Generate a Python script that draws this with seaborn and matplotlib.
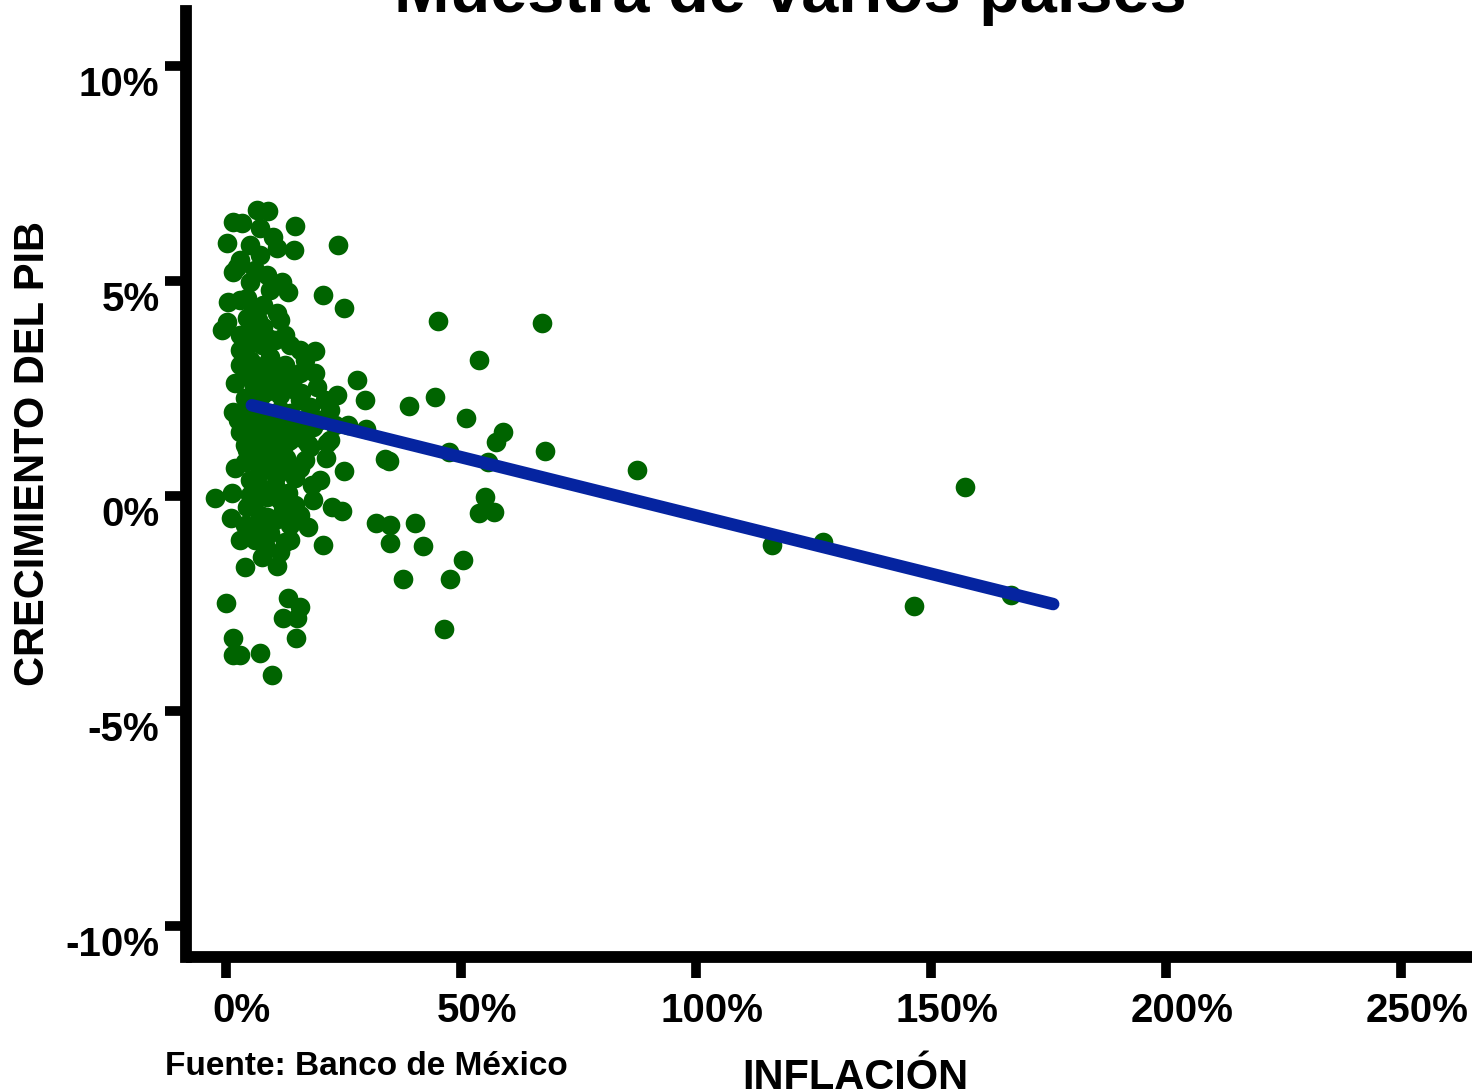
import matplotlib
matplotlib.use("Agg")
import matplotlib.pyplot as plt
import matplotlib.transforms as mtransforms
import seaborn as sns
import pandas as pd

# ---- data (inflation %, GDP growth %) ----
inflacion = [
    6.6, 8.9, 1.5, 3.4, 14.7, 7.2, 0.2, 5.1, 10.0, 10.9, 14.5, 23.8, 7.2, 1.5, 2.3,
    5.1, 8.7, 11.9, 13.2, 0.4, 4.5, 5.7, 10.9, 20.6, 25.1, 0.2, 4.5, 7.9, -0.9, 3.0,
    7.9, 11.5, 3.6, 9.4, 18.9, 1.9, 5.7, 10.9, 15.7, 18.9, 19.4, 23.6, 27.9, 29.6, 1.5,
    5.1, 8.7, 13.6, 17.9, 22.1, 26.0, 5.1, 10.0, 15.1, 18.5, 22.1, 4.0, 12.1, 29.8, 4.5,
    8.7, 13.0, 17.9, 21.5, 12.8, 16.8, 21.3, 25.1, 1.9, 6.8, 10.9, 14.7, 18.3, -2.3, 1.3,
    4.5, 8.7, 13.2, 18.5, 22.6, 24.7, 1.1, 8.7, 12.1, 15.7, 17.4, 6.2, 9.4, 12.6, 20.6,
    7.7, 11.5, 4.0, 10.9, 0.0, 13.2, 15.7, 12.1, 15.1, 14.9, 1.5, 1.5, 3.0, 7.2, 9.8,
    87.4, 67.9, 67.2, 53.8, 45.1, 44.5, 38.9, 51.1, 58.9, 57.4, 47.4, 55.7, 55.1, 53.8, 57.0,
    34.7, 33.8, 31.9, 34.9, 40.2, 34.9, 41.9, 50.4, 37.7, 47.7, 46.4, 116.2, 127.0, 146.4, 157.2,
    167.0,
    5.1, 7.7, 10.4, 6.2, 4.0, 7.7, 12.6, 14.7, 11.5, 4.0, 9.4, 12.6, 6.8, 10.4, 5.1,
    8.3, 11.5, 7.2, 4.0, 13.6, 15.7, 20.0, 16.8, 13.6, 9.4, 3.0, 9.4, 6.8, 12.6, 15.7,
    3.0, 6.2, 4.0, 2.6, 7.7, 6.2, 3.0,
    3.0, 6.2, 8.9, 13.6, 16.8, 5.1, 9.4, 13.2, 3.0, 7.7, 4.7, 11.5, 15.7, 7.7, 3.0,
    13.6, 6.8, 11.5, 4.0, 7.7, 15.7, 5.1, 10.4, 14.7, 10.4, 6.2, 13.6, 8.3, 20.0, 21.1,
    23.2,
    6.0, 9.0, 12.0, 16.0, 5.5, 8.0, 11.0, 14.0, 7.0, 10.0, 17.5, 6.5,
]
crecimiento = [
    6.64, 6.62, 6.36, 6.34, 6.27, 6.23, 5.88, 5.83, 6.02, 5.76, 5.71, 5.83, 5.60, 5.20, 5.32,
    4.97, 5.13, 4.97, 4.74, 4.51, 4.60, 4.37, 4.25, 4.67, 4.37, 4.04, 4.13, 4.44, 3.86, 3.74,
    3.93, 4.09, 3.32, 3.23, 3.37, 2.62, 2.39, 2.76, 2.86, 2.86, 2.53, 2.35, 2.69, 2.23, 1.95,
    1.77, 1.93, 1.93, 2.07, 2.00, 1.65, 1.42, 1.37, 1.53, 1.60, 1.30, 1.18, 1.14, 1.56, 1.07,
    1.14, 1.25, 1.14, 1.23, 0.88, 0.84, 0.88, 0.58, 0.65, 0.49, 0.49, 0.42, 0.26, -0.05, 0.07,
    -0.26, -0.02, 0.07, -0.09, -0.26, -0.35, -0.51, -0.49, -0.33, -0.44, -0.72, -1.02, -0.86, -1.07, -1.14,
    -1.42, -1.30, -1.65, -1.63, -2.49, -2.37, -2.58, -2.83, -2.83, -3.30, -3.30, -3.69, -3.69, -3.65, -4.16,
    0.60, 1.05, 4.02, 3.16, 4.07, 2.30, 2.09, 1.81, 1.49, 1.25, 1.02, 0.79, -0.02, -0.39, -0.37,
    0.81, 0.86, -0.63, -0.67, -0.63, -1.09, -1.16, -1.49, -1.93, -1.93, -3.09, -1.14, -1.07, -2.56, 0.21,
    -2.30,
    3.62, 3.51, 3.62, 3.04, 2.81, 2.69, 3.04, 2.46, 2.35, 2.28, 1.65, 1.53, 0.95, 0.84, 0.37,
    0.14, -0.09, -0.44, -0.67, -0.67, 2.23, 1.77, 1.30, 0.60, 0.60, 4.55, 4.79, 4.09, 3.74, 3.39,
    5.48, 5.25, 3.39, 1.77, 1.42, -0.09, -1.02,
    3.39, 3.86, 3.67, 3.51, 3.16, 3.16, 2.93, 2.69, 3.04, 2.35, 2.00, 2.00, 1.77, 1.65, 1.49,
    1.30, 1.18, 0.95, 0.79, 0.72, 0.65, 0.02, 0.26, -0.21, -0.56, -0.67, -1.02, -1.14, 0.37, 2.23,
    1.65,
    2.55, 2.45, 2.60, 2.40, 1.85, 1.80, 1.70, 1.75, 1.10, 1.05, 1.20, 0.30,
]

# trend line end points
tendencia_x = [5.5, 176.0]
tendencia_y = [2.11, -2.51]

x_ticks = [0, 50, 100, 150, 200, 250]
x_labels = ["0%", "50%", "100%", "150%", "200%", "250%"]
y_ticks = [-10, -5, 0, 5, 10]
y_labels = ["-10%", "-5%", "0%", "5%", "10%"]

titulo = "Muestra de varios países"
etiqueta_x = "INFLACIÓN"
etiqueta_y = "CRECIMIENTO DEL PIB"
fuente = "Fuente: Banco de México"

df = pd.DataFrame({"inflacion": inflacion, "crecimiento": crecimiento})
df_t = pd.DataFrame({"x": tendencia_x, "y": tendencia_y})

sns.set_style("ticks")
plt.rcParams["font.family"] = ["Liberation Sans", "DejaVu Sans"]
plt.rcParams["font.weight"] = "bold"
plt.rcParams["text.color"] = "black"
plt.rcParams["axes.labelcolor"] = "black"
plt.rcParams["xtick.color"] = "black"
plt.rcParams["ytick.color"] = "black"

W, H = 1478, 1092
fig = plt.figure(figsize=(W / 100, H / 100), dpi=100)
ax = fig.add_axes([186 / W, 1 - 957 / H, (1472 - 186) / W, (957 - 11) / H])

sns.scatterplot(data=df, x="inflacion", y="crecimiento", ax=ax, color="#006400",
                s=200, linewidth=0, alpha=1, zorder=3)
sns.lineplot(data=df_t, x="x", y="y", ax=ax, color="#0524A0", linewidth=9,
             solid_capstyle="round", zorder=4)

ax.set_xlim(-8.5, 265.1)
ax.set_ylim(-10.71, 11.27)
ax.set_xticks(x_ticks, x_labels)
ax.set_yticks(y_ticks, y_labels)
ax.set_xlabel("")
ax.set_ylabel("")

for side in ["top", "right"]:
    ax.spines[side].set_visible(False)
for side in ["left", "bottom"]:
    ax.spines[side].set_linewidth(8.5)
    ax.spines[side].set_color("black")
ax.spines["left"].set_capstyle("projecting")
ax.spines["bottom"].set_capstyle("butt")

ax.tick_params(axis="both", direction="out", length=15, width=7, color="black",
               labelsize=29, labelcolor="black", bottom=True, left=True)
ax.tick_params(axis="x", pad=10)
ax.tick_params(axis="y", pad=4)

dx = mtransforms.ScaledTranslation(16 / 100, 0, fig.dpi_scale_trans)
for lab in ax.get_xticklabels():
    lab.set_transform(lab.get_transform() + dx)
    lab.set_fontweight("bold")
    lab.set_color("black")
dy = mtransforms.ScaledTranslation(0, -15 / 100, fig.dpi_scale_trans)
for lab in ax.get_yticklabels():
    lab.set_transform(lab.get_transform() + dy)
    lab.set_fontweight("bold")
    lab.set_color("black")

fig.text(790 / W, 1 - 12 / H, titulo, ha="center", va="baseline",
         fontsize=48, fontweight="bold", color="black")
fig.text(855 / W, 1 - 1089 / H, etiqueta_x, ha="center", va="baseline",
         fontsize=30, fontweight="bold", color="black")
fig.text(33 / W, 1 - 453 / H, etiqueta_y, ha="center", va="center", rotation=90,
         fontsize=30, fontweight="bold", color="black")
fig.text(165 / W, 1 - 1075 / H, fuente, ha="left", va="baseline",
         fontsize=24, fontweight="bold", color="black")

fig.savefig("out.png", dpi=100)
